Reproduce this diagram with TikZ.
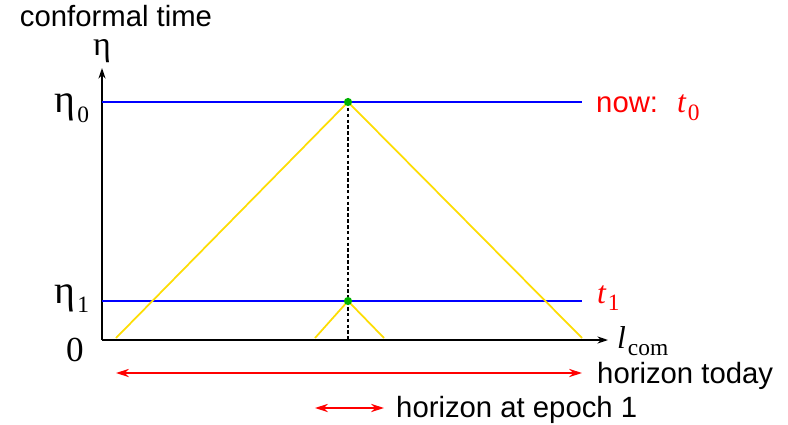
\documentclass[tikz,border=0pt]{standalone}
\usepackage{fontspec}
\setmainfont{Liberation Sans}
\newfontfamily\symbfont{Liberation Serif}
\usepackage{tikz}
\usetikzlibrary{arrows.meta, calc}

% lowered index in the serif font
\newcommand{\lowidx}[1]{\kern0.06em\raisebox{-0.25em}{\fontsize{20}{22}\selectfont #1}}

\begin{document}
\begin{tikzpicture}[
        x=0.03cm, y=-0.03cm,
        >=Stealth,
        axis_style/.style={->, line width=1.5pt, >={Stealth[length=9pt,width=6pt]}},
        level_style/.style={draw=blue, line width=1.2pt},
        cone_style/.style={draw=yellow!80!orange, line width=1.5pt},
        horizon_style/.style={<->, draw=red, line width=1.2pt, >={Stealth[length=11pt,width=7pt]}},
        event_dot/.style={circle, fill=green!70!black, inner sep=0pt, minimum size=7pt},
        label_text/.style={font=\fontsize{25}{30}\selectfont, inner sep=0pt},
        sym_text/.style={font=\symbfont\fontsize{34}{36}\selectfont, inner sep=0pt},
        var_text/.style={font=\symbfont\itshape\fontsize{27}{30}\selectfont, inner sep=0pt}
    ]
    \useasboundingbox (0,0) rectangle (788,425);

    % =========================================================================
    % 1. AXES
    % =========================================================================
    \coordinate (O) at (102, 340);
    \coordinate (Ytip) at (102, 68);
    \coordinate (Xtip) at (608, 340);
    \draw[axis_style] (O) -- (Ytip);
    \draw[axis_style] (O) -- (Xtip);

    \node[sym_text, anchor=base, text height=0.5em, font=\symbfont\fontsize{29}{30}\selectfont] (etaAxis) at (102, 56) {η};
    \node[label_text, anchor=base, text depth=0pt] (ylabel) at (116, 27) {conformal time};
    \node[var_text, anchor=base west] (xlabel) at (617, 348) {l\lowidx{\upshape com}};
    \node[var_text, anchor=base, font=\symbfont\fontsize{30}{32}\selectfont] (zero) at (75, 361) {0};

    % =========================================================================
    % 2. TIME LEVELS
    % =========================================================================
    \coordinate (A0) at (102, 102);
    \coordinate (B0) at (582, 102);
    \coordinate (A1) at (102, 301);
    \coordinate (B1) at (582, 301);
    \draw[level_style] (A0) -- (B0);
    \draw[level_style] (A1) -- (B1);

    \node[sym_text, anchor=base west] (eta0) at (54, 113) {η\lowidx{0}};
    \node[sym_text, anchor=base west] (eta1) at (54, 303) {η\lowidx{1}};
    \node[label_text, anchor=base west, text=red] (now) at (596, 113) {now:};
    \node[var_text, anchor=base west, text=red] (t0) at (677, 113) {t\lowidx{\upshape 0}};
    \node[var_text, anchor=base west, text=red] (t1) at (597, 303) {t\lowidx{\upshape 1}};

    % =========================================================================
    % 3. LIGHT CONES
    % =========================================================================
    \coordinate (L0) at (116, 338);
    \coordinate (R0) at (582, 338);
    \coordinate (L1) at (315, 338);
    \coordinate (R1) at (384, 338);
    \coordinate (base) at (348, 340);

    \draw[cone_style] (L0) -- (348, 102) -- (R0);
    \draw[cone_style] (L1) -- (348, 301) -- (R1);
    \draw[line width=1pt, dash pattern=on 3pt off 2pt] (348, 102) -- (base);

    \node[event_dot] (E0) at (348, 102) {};
    \node[event_dot] (E1) at (348, 301) {};

    % =========================================================================
    % 4. HORIZONS
    % =========================================================================
    \coordinate (H0l) at (116, 373);
    \coordinate (H0r) at (582, 373);
    \coordinate (H1l) at (315, 408);
    \coordinate (H1r) at (384, 408);
    \draw[horizon_style] (H0l) -- (H0r);
    \draw[horizon_style] (H1l) -- (H1r);

    \node[label_text, anchor=base west] (today) at (597, 383) {horizon today};
    \node[label_text, anchor=base west] (epoch) at (396, 417) {horizon at epoch 1};

\end{tikzpicture}
\end{document}
